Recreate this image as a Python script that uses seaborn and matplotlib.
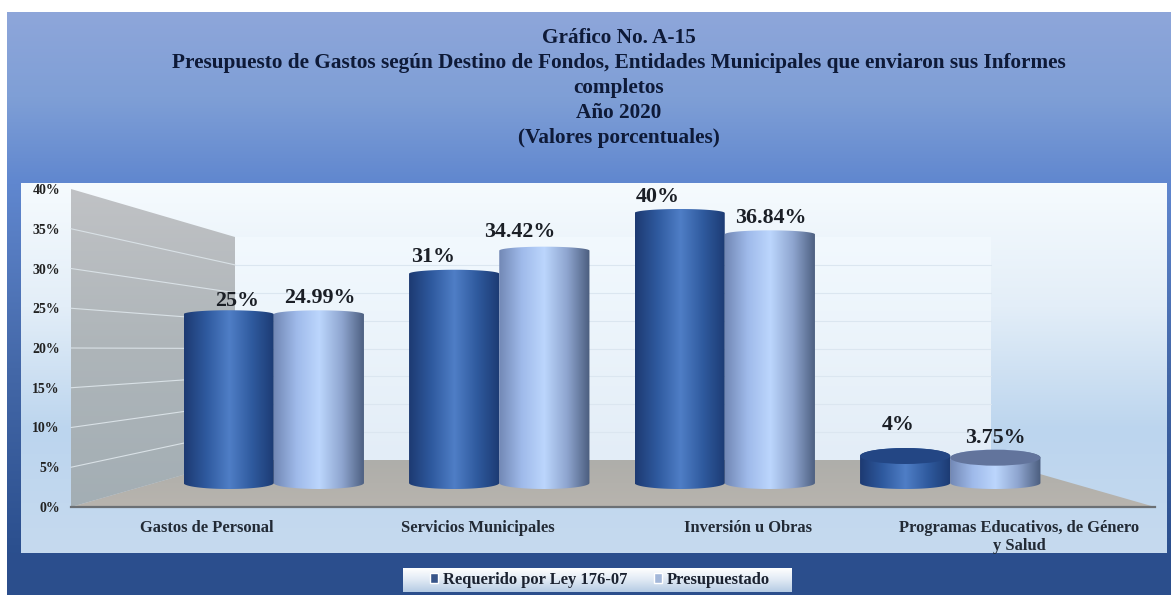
import numpy as np
import pandas as pd
import matplotlib
matplotlib.use("Agg")
import matplotlib.pyplot as plt
import seaborn as sns
from matplotlib.colors import LinearSegmentedColormap
from matplotlib.patches import PathPatch, Polygon, Ellipse
from matplotlib.path import Path

# ----------------------------------------------------------
# DATA
# ----------------------------------------------------------

destinos = ["Gastos de Personal", "Servicios Municipales", "Inversión u Obras",
            "Programas Educativos, de Género\ny Salud"]
series = ["Requerido por Ley 176-07", "Presupuestado"]
requerido = [25, 31, 40, 4]
presupuestado = [24.99, 34.42, 36.84, 3.75]
etiquetas_req = ["25%", "31%", "40%", "4%"]
etiquetas_pre = ["24.99%", "34.42%", "36.84%", "3.75%"]
y_ticks = [0, 5, 10, 15, 20, 25, 30, 35, 40]

titulo = ("Gráfico No. A-15\n"
          "Presupuesto de Gastos según Destino de Fondos, Entidades Municipales que enviaron sus Informes\n"
          "completos\n"
          "Año 2020\n"
          "(Valores porcentuales)")

df = pd.DataFrame({
    "destino": destinos * 2,
    "serie": [series[0]] * 4 + [series[1]] * 4,
    "valor": requerido + presupuestado,
})

# ----------------------------------------------------------
# FIGURE SETUP
# ----------------------------------------------------------

W, H = 1171, 595
sns.set_theme(style="white")
plt.rcParams["font.family"] = ["Liberation Serif", "DejaVu Serif"]

fig = plt.figure(figsize=(W / 100, H / 100), dpi=100, facecolor="white")


def px_axes(x0, y0, x1, y1):
    return fig.add_axes([x0 / W, 1 - y1 / H, (x1 - x0) / W, (y1 - y0) / H])


def v_grad(ax, x0, y0, x1, y1, colors, zorder=1, clip=None):
    cmap = LinearSegmentedColormap.from_list("g", colors)
    im = ax.imshow(np.linspace(0, 1, 256).reshape(-1, 1), cmap=cmap, aspect="auto",
                   extent=(x0, x1, y1, y0), zorder=zorder, interpolation="bilinear")
    if clip is not None:
        im.set_clip_path(clip)
    return im


# ----------------------------------------------------------
# BACKGROUND BANDS, WALLS AND FLOOR
# ----------------------------------------------------------

ax_bg = px_axes(0, 0, W, H)
ax_bg.axis("off")

v_grad(ax_bg, 7, 12, W, 183, ["#8ea6da", "#7f9fd6", "#6087cf"], 1)
v_grad(ax_bg, 7, 183, W, 553, ["#6087cf", "#4468a8", "#2b4f8e"], 1)
v_grad(ax_bg, 7, 553, W, H, ["#2b4f8e", "#2c4e8c"], 1)
v_grad(ax_bg, 21, 183, 1167, 553, ["#f6fbfe", "#e3eef8", "#bcd5ee", "#c6daef"], 2)

v_grad(ax_bg, 235, 237, 991, 460, ["#f2f9fe", "#e3edf7"], 3)
for t in y_ticks[1:-1]:
    y = 460 - t / 40 * 223
    ax_bg.plot([235, 991], [y, y], color="#dbe6f0", lw=0.8, zorder=3.5)

wall = Polygon([(71, 189), (235, 237), (235, 460), (71, 507)], closed=True,
               transform=ax_bg.transData, facecolor="none", edgecolor="none")
ax_bg.add_patch(wall)
v_grad(ax_bg, 71, 189, 235, 507, ["#c0c2c5", "#aeb5b9", "#a3aeb4"], 4, clip=wall)
for t in y_ticks[1:-1]:
    ax_bg.plot([71, 235], [507 - t / 40 * 318, 460 - t / 40 * 223],
               color="#d9e1e6", lw=0.8, zorder=4.5)

floor = Polygon([(71, 507), (235, 460), (991, 460), (1155, 507)], closed=True,
                transform=ax_bg.transData, facecolor="none", edgecolor="none")
ax_bg.add_patch(floor)
v_grad(ax_bg, 71, 460, 1155, 507, ["#aeaeaa", "#b8b4ae"], 5, clip=floor)

v_grad(ax_bg, 403, 568, 792, 592, ["#ffffff", "#dfe9f4", "#b5cbe4"], 6)

ax_bg.set_xlim(0, W)
ax_bg.set_ylim(H, 0)

# ----------------------------------------------------------
# FRONT AXIS: TICK LABELS AND BASE LINE
# ----------------------------------------------------------

ax_front = px_axes(71, 189, 1155, 507)
ax_front.patch.set_visible(False)
ax_front.set_xlim(-0.5, 3.5)
ax_front.set_ylim(0, 40)
ax_front.set_yticks(y_ticks)
ax_front.set_yticklabels([f"{t}%" for t in y_ticks], fontsize=10, fontweight="bold", color="#222222")
ax_front.set_xticks(range(len(destinos)))
ax_front.set_xticklabels(destinos, fontsize=11.9, fontweight="bold", color="#222a35", linespacing=1.2)
ax_front.tick_params(axis="y", length=0, pad=8)
ax_front.tick_params(axis="x", length=0, pad=9)
for s in ["top", "left", "right"]:
    ax_front.spines[s].set_visible(False)
ax_front.spines["bottom"].set_color("#6c7074")
ax_front.spines["bottom"].set_linewidth(1.6)

# ----------------------------------------------------------
# CYLINDER BARS
# ----------------------------------------------------------

BASE, PX_PCT = 483, 6.75
ax_bars = px_axes(161, BASE - 40 * PX_PCT, 1063, BASE)
ax_bars.patch.set_visible(False)

sns.barplot(data=df, x="destino", y="valor", hue="serie", order=destinos, hue_order=series,
            palette=["#2a5196", "#9ab4e2"], width=0.8, gap=0, ax=ax_bars)
ax_bars.set_xlim(-0.5, 3.5)
ax_bars.set_ylim(0, 40)
handles, labels = ax_bars.get_legend_handles_labels()
ax_bars.axis("off")

grad_req = LinearSegmentedColormap.from_list("req", ["#1d3a72", "#2f5a9f", "#4f7ec6", "#2f5a9e", "#1c3a72"])
grad_pre = LinearSegmentedColormap.from_list("pre", ["#7288b5", "#9fbaea", "#bcd6fd", "#8ea5cf", "#4b5d7e"])
tapa_colors = ["#234684", "#62749c"]

px_y = 1 / PX_PCT
bars = [b for b in ax_bars.patches if b.get_height() > 0]
textos = etiquetas_req + etiquetas_pre
offsets = [(8, 3), (-21, 7), (-22, 6), (-7, 21),
           (1, 6), (-25, 9), (1, 6), (0, 10)]

for i, bar in enumerate(bars):
    x0, x1 = bar.get_x(), bar.get_x() + bar.get_width()
    v = bar.get_height()
    xc = (x0 + x1) / 2
    corto = v < 10
    dt = (8 if corto else 4) * px_y
    db = 6 * px_y

    ang = np.linspace(np.pi, 0, 40)
    top = np.c_[xc + (x1 - xc) * np.cos(ang), v + dt * np.sin(ang)]
    ang = np.linspace(0, -np.pi, 40)
    bottom = np.c_[xc + (x1 - xc) * np.cos(ang), db * np.sin(ang)]
    verts = np.vstack([top, bottom, top[:1]])

    shape = PathPatch(Path(verts, closed=True), transform=ax_bars.transData,
                      facecolor="none", edgecolor="none")
    shape.set_clip_on(False)
    ax_bars.add_patch(shape)
    bar.set_visible(False)

    cmap = grad_req if i < 4 else grad_pre
    im = ax_bars.imshow(np.linspace(0, 1, 256).reshape(1, -1), cmap=cmap, aspect="auto",
                        extent=(x0, x1, -db, v + dt), zorder=2 + i * 0.1, interpolation="bilinear")
    # the image would otherwise stop at the axes box
    im.set_clip_box(fig.bbox)
    im.set_clip_path(shape)

    if corto:
        lid = Ellipse((xc, v), x1 - x0, 2 * dt, facecolor=tapa_colors[0 if i < 4 else 1],
                      edgecolor="none", zorder=2.05 + i * 0.1, clip_on=False)
        ax_bars.add_patch(lid)

    ax_bars.annotate(textos[i], xy=(xc, v), xytext=offsets[i], textcoords="offset pixels",
                     ha="center", va="bottom", fontsize=15.8, fontweight="bold",
                     color="#1b1f26", annotation_clip=False, zorder=8)

ax_bars.set_xlim(-0.5, 3.5)
ax_bars.set_ylim(0, 40)

# ----------------------------------------------------------
# LEGEND AND TITLE
# ----------------------------------------------------------

leg = ax_bars.legend(handles, labels, loc="center", bbox_to_anchor=(600 / W, 1 - 580 / H),
                     bbox_transform=fig.transFigure, ncol=2, frameon=False, handlelength=0.5,
                     handleheight=0.5, handletextpad=0.3, columnspacing=1.6,
                     prop={"size": 11.9, "weight": "bold"})
for t in leg.get_texts():
    t.set_color("#1b2230")

fig.suptitle(titulo, x=619 / W, y=1 - 28 / H, va="top", ha="center", fontsize=15.3,
             fontweight="bold", color="#0e1a38", linespacing=1.33)

fig.savefig("out.png", dpi=100)
